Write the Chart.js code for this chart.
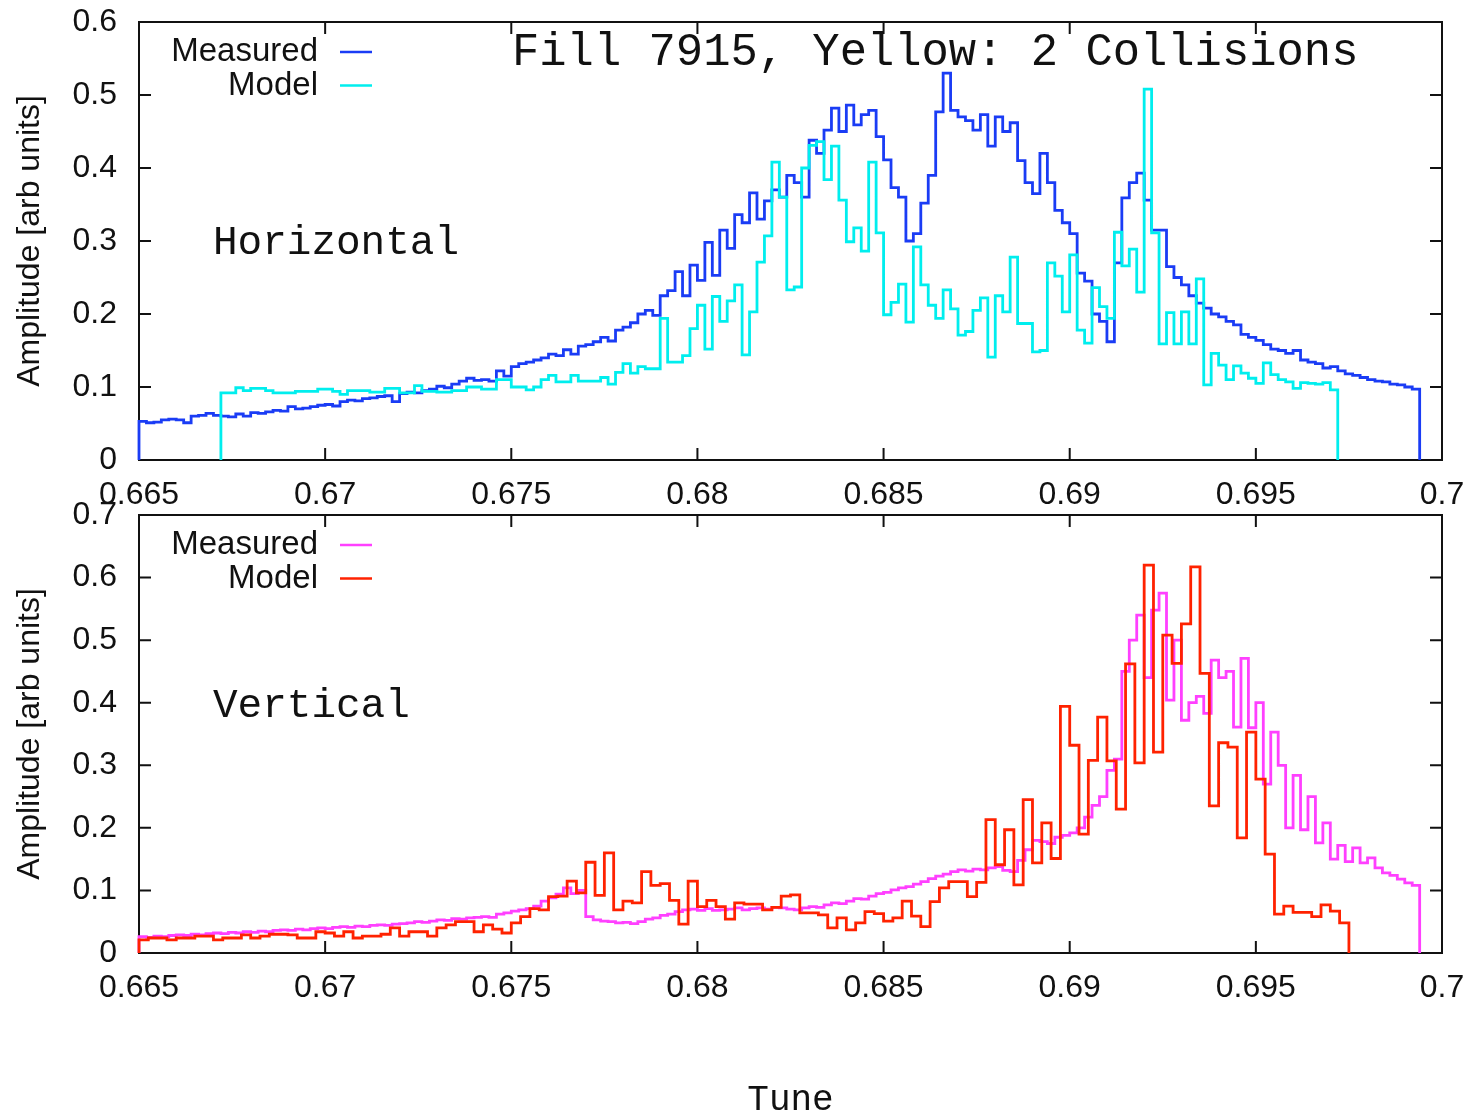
<!DOCTYPE html>
<html lang="en">
<head>
<meta charset="UTF-8">
<title>Fill 7915, Yellow: 2 Collisions</title>
<script src="https://cdn.jsdelivr.net/npm/chart.js@4.4.1/dist/chart.umd.min.js"></script>
<style>
  html, body { margin: 0; padding: 0; background: #fff; overflow: hidden; }
  #wrap { position: relative; width: 1474px; height: 1115px; }
  canvas { position: absolute; left: 0; }
  #topChart { top: 0; }
  #bottomChart { top: 500px; }
</style>
</head>
<body>
<div id="wrap">
  <canvas id="topChart" width="1474" height="530"></canvas>
  <canvas id="bottomChart" width="1474" height="620"></canvas>
</div>
<script>
// axes
const tuneTicks = [0.665, 0.67, 0.675, 0.68, 0.685, 0.69, 0.695, 0.7];
const ampTicksH = [0, 0.1, 0.2, 0.3, 0.4, 0.5, 0.6];
const ampTicksV = [0, 0.1, 0.2, 0.3, 0.4, 0.5, 0.6, 0.7];

// histogram bins: first edge and bin width
const measuredStart = 0.665, measuredBin = 0.0002;
const hModelStart = 0.6672, hModelBin = 0.0002;
const vModelStart = 0.665, vModelBin = 0.00025;

// Horizontal, measured (172 bins)
const measuredH = [
  0.053, 0.051, 0.052, 0.055, 0.056, 0.055, 0.051, 0.060, 0.061, 0.064,
  0.061, 0.060, 0.059, 0.063, 0.060, 0.065, 0.064, 0.066, 0.068, 0.067,
  0.073, 0.070, 0.071, 0.073, 0.075, 0.076, 0.074, 0.080, 0.082, 0.081,
  0.084, 0.085, 0.087, 0.088, 0.080, 0.091, 0.093, 0.092, 0.095, 0.097,
  0.101, 0.099, 0.104, 0.108, 0.112, 0.109, 0.110, 0.108, 0.122, 0.115,
  0.128, 0.132, 0.134, 0.137, 0.140, 0.145, 0.143, 0.151, 0.145, 0.156,
  0.158, 0.162, 0.168, 0.163, 0.178, 0.182, 0.188, 0.200, 0.205, 0.198,
  0.225, 0.232, 0.258, 0.225, 0.267, 0.246, 0.298, 0.253, 0.315, 0.290,
  0.336, 0.325, 0.366, 0.330, 0.355, 0.370, 0.360, 0.390, 0.380, 0.360,
  0.438, 0.420, 0.452, 0.482, 0.450, 0.486, 0.459, 0.473, 0.479, 0.443,
  0.411, 0.373, 0.360, 0.300, 0.310, 0.352, 0.390, 0.477, 0.530, 0.479,
  0.470, 0.465, 0.452, 0.473, 0.430, 0.470, 0.450, 0.462, 0.410, 0.380,
  0.365, 0.420, 0.380, 0.342, 0.325, 0.310, 0.256, 0.245, 0.200, 0.190,
  0.162, 0.270, 0.359, 0.380, 0.393, 0.356, 0.315, 0.315, 0.265, 0.250,
  0.240, 0.225, 0.215, 0.208, 0.200, 0.196, 0.190, 0.185, 0.172, 0.168,
  0.164, 0.158, 0.152, 0.150, 0.146, 0.150, 0.137, 0.134, 0.132, 0.126,
  0.128, 0.122, 0.118, 0.116, 0.113, 0.110, 0.108, 0.107, 0.104, 0.103,
  0.100, 0.097
];

// Horizontal, model (150 bins)
const modelH = [
  0.092, 0.092, 0.099, 0.095, 0.098, 0.098, 0.095, 0.092, 0.092, 0.092,
  0.094, 0.094, 0.094, 0.097, 0.097, 0.094, 0.090, 0.095, 0.095, 0.095,
  0.093, 0.093, 0.098, 0.098, 0.092, 0.092, 0.102, 0.094, 0.094, 0.093,
  0.093, 0.095, 0.095, 0.100, 0.100, 0.097, 0.097, 0.110, 0.110, 0.100,
  0.100, 0.096, 0.100, 0.110, 0.116, 0.107, 0.107, 0.116, 0.108, 0.108,
  0.108, 0.113, 0.104, 0.120, 0.132, 0.119, 0.128, 0.125, 0.125, 0.194,
  0.134, 0.134, 0.143, 0.180, 0.212, 0.152, 0.224, 0.190, 0.218, 0.240,
  0.144, 0.203, 0.271, 0.307, 0.408, 0.360, 0.233, 0.237, 0.400, 0.431,
  0.436, 0.384, 0.430, 0.356, 0.299, 0.318, 0.286, 0.408, 0.311, 0.199,
  0.216, 0.241, 0.189, 0.292, 0.240, 0.212, 0.194, 0.233, 0.207, 0.171,
  0.176, 0.205, 0.222, 0.141, 0.225, 0.203, 0.278, 0.187, 0.187, 0.148,
  0.150, 0.270, 0.252, 0.203, 0.281, 0.178, 0.160, 0.236, 0.210, 0.194,
  0.312, 0.266, 0.289, 0.230, 0.508, 0.311, 0.159, 0.202, 0.159, 0.203,
  0.159, 0.248, 0.103, 0.146, 0.130, 0.110, 0.129, 0.119, 0.112, 0.105,
  0.133, 0.117, 0.110, 0.107, 0.098, 0.106, 0.105, 0.104, 0.106, 0.096
];

// Vertical, measured (172 bins)
const measuredV = [
  0.026, 0.025, 0.027, 0.026, 0.028, 0.029, 0.028, 0.030, 0.029, 0.031,
  0.032, 0.031, 0.033, 0.032, 0.034, 0.033, 0.035, 0.034, 0.036, 0.037,
  0.036, 0.038, 0.037, 0.039, 0.040, 0.039, 0.041, 0.042, 0.041, 0.043,
  0.042, 0.044, 0.045, 0.044, 0.046, 0.047, 0.048, 0.050, 0.049, 0.051,
  0.053, 0.052, 0.055, 0.054, 0.056, 0.057, 0.058, 0.057, 0.062, 0.064,
  0.067, 0.069, 0.071, 0.075, 0.083, 0.088, 0.094, 0.104, 0.095, 0.100,
  0.058, 0.053, 0.051, 0.050, 0.048, 0.049, 0.047, 0.050, 0.054, 0.056,
  0.060, 0.062, 0.066, 0.069, 0.070, 0.068, 0.071, 0.068, 0.069, 0.070,
  0.072, 0.069, 0.071, 0.072, 0.070, 0.073, 0.072, 0.070, 0.069, 0.072,
  0.074, 0.073, 0.077, 0.080, 0.079, 0.083, 0.087, 0.086, 0.091, 0.095,
  0.097, 0.101, 0.104, 0.106, 0.110, 0.114, 0.119, 0.123, 0.126, 0.130,
  0.133, 0.131, 0.134, 0.133, 0.136, 0.138, 0.132, 0.130, 0.148, 0.165,
  0.180, 0.178, 0.175, 0.185, 0.188, 0.192, 0.200, 0.217, 0.236, 0.250,
  0.292, 0.310, 0.450, 0.500, 0.540, 0.440, 0.548, 0.575, 0.404, 0.500,
  0.372, 0.400, 0.410, 0.383, 0.468, 0.440, 0.450, 0.361, 0.471, 0.360,
  0.400, 0.270, 0.353, 0.300, 0.200, 0.284, 0.197, 0.250, 0.176, 0.208,
  0.150, 0.172, 0.146, 0.168, 0.144, 0.152, 0.136, 0.128, 0.124, 0.118,
  0.112, 0.108
];

// Vertical, model (130 bins)
const modelV = [
  0.021, 0.024, 0.024, 0.021, 0.024, 0.024, 0.027, 0.027, 0.021, 0.024,
  0.024, 0.029, 0.024, 0.027, 0.030, 0.030, 0.029, 0.024, 0.024, 0.034,
  0.032, 0.027, 0.034, 0.024, 0.027, 0.027, 0.030, 0.040, 0.027, 0.034,
  0.034, 0.027, 0.040, 0.045, 0.050, 0.050, 0.034, 0.045, 0.038, 0.032,
  0.048, 0.058, 0.071, 0.069, 0.090, 0.091, 0.115, 0.096, 0.145, 0.092,
  0.160, 0.069, 0.083, 0.080, 0.130, 0.108, 0.111, 0.084, 0.046, 0.115,
  0.074, 0.084, 0.074, 0.054, 0.080, 0.078, 0.078, 0.069, 0.073, 0.091,
  0.093, 0.064, 0.064, 0.061, 0.040, 0.056, 0.037, 0.048, 0.066, 0.063,
  0.051, 0.056, 0.083, 0.059, 0.042, 0.082, 0.104, 0.114, 0.114, 0.090,
  0.113, 0.213, 0.141, 0.197, 0.109, 0.245, 0.144, 0.208, 0.151, 0.394,
  0.332, 0.190, 0.308, 0.377, 0.307, 0.230, 0.462, 0.304, 0.620, 0.321,
  0.508, 0.463, 0.526, 0.617, 0.447, 0.235, 0.336, 0.329, 0.184, 0.353,
  0.278, 0.158, 0.062, 0.075, 0.065, 0.065, 0.058, 0.077, 0.067, 0.048
];

const SANS = '"Liberation Sans", Arial, Helvetica, sans-serif';
const MONO = '"Liberation Mono", "Courier New", monospace';
const TICK = 12;

// turn bin values into step points, closed down to zero at both ends
function histPoints(start, width, values) {
  const pts = [{ x: start, y: 0 }];
  values.forEach((v, i) => pts.push({ x: start + i * width, y: v }));
  const end = start + values.length * width;
  pts.push({ x: end, y: values[values.length - 1] });
  pts.push({ x: end, y: 0 });
  return pts;
}

// frame, inward ticks, legend and labels drawn in the plot area
const panelDecor = {
  id: 'panelDecor',
  beforeDatasetsDraw(chart) {
    const { ctx, chartArea: a, scales: { x, y } } = chart;
    ctx.save();
    ctx.strokeStyle = '#111';
    ctx.lineWidth = 2;
    ctx.strokeRect(a.left, a.top, a.right - a.left, a.bottom - a.top);
    ctx.beginPath();
    x.ticks.forEach(t => {
      const px = x.getPixelForValue(t.value);
      ctx.moveTo(px, a.bottom); ctx.lineTo(px, a.bottom - TICK);
      ctx.moveTo(px, a.top); ctx.lineTo(px, a.top + TICK);
    });
    y.ticks.forEach(t => {
      const py = y.getPixelForValue(t.value);
      ctx.moveTo(a.left, py); ctx.lineTo(a.left + TICK, py);
      ctx.moveTo(a.right, py); ctx.lineTo(a.right - TICK, py);
    });
    ctx.stroke();
    ctx.restore();
  },
  afterDatasetsDraw(chart, args, opts) {
    const { ctx, chartArea: a } = chart;
    ctx.save();
    ctx.fillStyle = '#111';
    ctx.textBaseline = 'middle';
    ctx.font = '33px ' + SANS;
    ctx.textAlign = 'right';
    chart.data.datasets.forEach((ds, i) => {
      const ly = a.top + 30 + 33.5 * i;
      ctx.fillText(ds.label, a.left + 179, ly);
      ctx.strokeStyle = ds.borderColor;
      ctx.lineWidth = 2.5;
      ctx.beginPath();
      ctx.moveTo(a.left + 201, ly);
      ctx.lineTo(a.left + 233, ly);
      ctx.stroke();
    });
    ctx.textAlign = 'left';
    ctx.font = '41px ' + MONO;
    ctx.fillText(opts.label, a.left + 74, a.top + opts.labelY);
    if (opts.title) {
      ctx.font = '45.5px ' + MONO;
      ctx.fillText(opts.title, a.left + 373, a.top + 31);
    }
    ctx.restore();
  }
};

function panel(canvasId, measured, model, mStart, mBin, colors, yTicks, yMax, pad, xHeight, decor, xTitle) {
  return new Chart(document.getElementById(canvasId), {
    type: 'line',
    data: {
      datasets: [
        {
          label: 'Measured',
          data: histPoints(measuredStart, measuredBin, measured),
          borderColor: colors[0],
          order: 1
        },
        {
          label: 'Model',
          data: histPoints(mStart, mBin, model),
          borderColor: colors[1],
          order: 0
        }
      ]
    },
    options: {
      responsive: false,
      animation: false,
      parsing: false,
      layout: { padding: pad },
      elements: {
        line: { borderWidth: 2.8, stepped: 'before', tension: 0, fill: false },
        point: { radius: 0, hoverRadius: 0 }
      },
      datasets: { line: { clip: false } },
      plugins: {
        legend: { display: false },
        tooltip: { enabled: false },
        panelDecor: decor
      },
      scales: {
        x: {
          type: 'linear',
          min: tuneTicks[0],
          max: tuneTicks[tuneTicks.length - 1],
          afterBuildTicks: s => { s.ticks = tuneTicks.map(v => ({ value: v })); },
          afterFit: s => {
            s.height = xHeight;
            s.paddingLeft = 0;
            s.paddingRight = 0;
          },
          grid: { display: false, drawTicks: false },
          border: { display: false },
          ticks: {
            padding: 16,
            color: '#111',
            maxRotation: 0,
            autoSkip: false,
            font: { family: SANS, size: 32 },
            callback: v => String(v)
          },
          title: {
            display: !!xTitle,
            text: xTitle || '',
            color: '#111',
            font: { family: MONO, size: 36, lineHeight: 1.1 },
            padding: { top: 0, bottom: 0 }
          }
        },
        y: {
          min: 0,
          max: yMax,
          afterBuildTicks: s => { s.ticks = yTicks.map(v => ({ value: v })); },
          afterFit: s => {
            s.width = 139;
            s.paddingTop = 0;
            s.paddingBottom = 0;
          },
          grid: { display: false, drawTicks: false },
          border: { display: false },
          ticks: {
            padding: 22,
            color: '#111',
            autoSkip: false,
            font: { family: SANS, size: 32 },
            callback: v => String(v)
          },
          title: {
            display: true,
            text: 'Amplitude [arb units]',
            color: '#111',
            font: { family: SANS, size: 32 },
            padding: { top: 11, bottom: 0 }
          }
        }
      }
    },
    plugins: [panelDecor]
  });
}

panel('topChart', measuredH, modelH, hModelStart, hModelBin,
  ['#1a3cf5', '#00eeee'], ampTicksH, 0.6,
  { top: 22, right: 32, left: 0, bottom: 0 }, 70,
  { label: 'Horizontal', labelY: 221, title: 'Fill 7915, Yellow: 2 Collisions' }, null);

panel('bottomChart', measuredV, modelV, vModelStart, vModelBin,
  ['#ff40ff', '#ff2200'], ampTicksV, 0.7,
  { top: 15, right: 32, left: 0, bottom: 0 }, 167,
  { label: 'Vertical', labelY: 191 }, 'Tune');
</script>
</body>
</html>
